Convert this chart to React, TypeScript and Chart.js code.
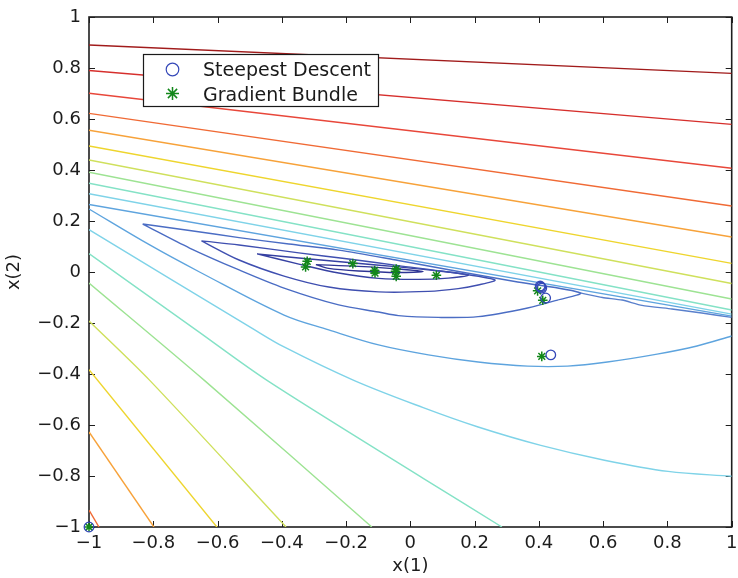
import React, { useEffect, useRef } from "react";
import { Chart, registerables } from "chart.js";

Chart.register(...registerables);

type Pt = [number, number];

// ---------- axis ticks ----------
const tickValues: number[] = [-1, -0.8, -0.6, -0.4, -0.2, 0, 0.2, 0.4, 0.6, 0.8, 1];
const xTitle = "x(1)";
const yTitle = "x(2)";

// ---------- contour lines ----------
// upper family, left edge -> right edge
const c01DarkRed: Pt[] = [[-1, 0.89], [1, 0.779]];
const c02Red: Pt[] = [[-1, 0.79], [1, 0.579]];
const c03Red: Pt[] = [[-1, 0.701], [1, 0.407]];
const c04OrangeRed: Pt[] = [[-1, 0.622], [1, 0.259]];
const c05Orange: Pt[] = [[-1, 0.556], [1, 0.137]];
const c06Yellow: Pt[] = [[-1, 0.494], [1, 0.034]];
const c07Lime: Pt[] = [[-1, 0.439], [1, -0.045]];
const c08LightGreen: Pt[] = [[-1, 0.391], [1, -0.106]];
const c09Aqua: Pt[] = [[-1, 0.348], [1, -0.149]];
const c10Cyan: Pt[] = [[-1, 0.307], [1, -0.165]];
const c11SteelBlue: Pt[] = [[-1, 0.265], [1, -0.173]];

// lower family
const c04bOrangeRed: Pt[] = [[-1, -0.934], [-0.969, -1]];
const c05bOrange: Pt[] = [[-1, -0.627], [-0.798, -1]];
const c06bYellow: Pt[] = [[-1, -0.383], [-0.602, -1]];
const c07bLime: Pt[] = [[-1, -0.192], [-0.811, -0.425], [-0.387, -1]];
const c08bLightGreen: Pt[] = [[-1, -0.043], [-0.641, -0.425], [-0.12, -1]];
const c09bAqua: Pt[] = [[-1, 0.072], [-0.666, -0.228], [-0.446, -0.425], [0.04, -0.809], [0.285, -1]];
const c10bCyan: Pt[] = [
  [-1, 0.166], [-0.492, -0.221], [-0.393, -0.294], [-0.176, -0.425], [0.04, -0.532],
  [0.211, -0.608], [0.406, -0.68], [0.604, -0.738], [0.802, -0.782], [1, -0.801],
];
const c11bSteelBlue: Pt[] = [
  [-1, 0.247], [-0.811, 0.106], [-0.656, 0.0], [-0.393, -0.169], [-0.254, -0.227],
  [-0.099, -0.286], [0.056, -0.325], [0.211, -0.353], [0.365, -0.369], [0.489, -0.369],
  [0.613, -0.353], [0.768, -0.322], [0.892, -0.29], [1, -0.251],
];

// valley loops
const c12Blue: Pt[] = [
  [-0.833, 0.188], [-0.687, 0.163], [-0.533, 0.135], [-0.378, 0.11], [-0.223, 0.086],
  [-0.037, 0.045], [0.158, 0.0], [0.334, -0.039], [0.529, -0.082],
  [0.458, -0.11], [0.365, -0.141], [0.211, -0.175], [0.087, -0.178], [-0.037, -0.171],
  [-0.099, -0.157], [-0.223, -0.129], [-0.393, -0.063], [-0.533, 0.008], [-0.687, 0.094],
  [-0.833, 0.188],
];
const c12BlueTail: Pt[] = [
  [0.529, -0.082], [0.598, -0.1], [0.659, -0.11], [0.721, -0.131], [0.814, -0.145],
  [0.907, -0.161], [1, -0.178],
];
const c13DarkBlue: Pt[] = [
  [-0.65, 0.122], [-0.533, 0.106], [-0.347, 0.075], [-0.192, 0.051], [-0.037, 0.025],
  [0.118, 0.0], [0.263, -0.031], [0.211, -0.051], [0.149, -0.065], [0.056, -0.076],
  [-0.099, -0.078], [-0.254, -0.059], [-0.393, -0.016], [-0.533, 0.047], [-0.65, 0.122],
];
const c14Navy: Pt[] = [
  [-0.477, 0.071], [-0.347, 0.055], [-0.192, 0.037], [-0.037, 0.02], [0.087, 0.004],
  [0.18, -0.012], [0.118, -0.024], [0.025, -0.029], [-0.099, -0.025], [-0.223, -0.004],
  [-0.347, 0.031], [-0.477, 0.071],
];
const c15Indigo: Pt[] = [
  [-0.294, 0.029], [-0.161, 0.022], [-0.037, 0.012], [0.04, 0.002], [-0.037, -0.002],
  [-0.161, 0.004], [-0.254, 0.014], [-0.294, 0.029],
];

// ---------- iterates ----------
const steepestDescent: Pt[] = [
  [-1, -1], [0.437, -0.325], [0.421, -0.102], [0.406, -0.059], [0.404, -0.055], [0.409, -0.063],
];
const gradientBundle: Pt[] = [
  [-1, -1], [-0.321, 0.042], [-0.326, 0.02], [-0.179, 0.033], [-0.111, 0.006], [-0.11, -0.004],
  [-0.044, 0.012], [-0.046, 0.003], [-0.044, -0.017], [0.081, -0.013],
  [0.396, -0.074], [0.412, -0.111], [0.409, -0.331],
];

const seriesNames = ["Steepest Descent", "Gradient Bundle"];

// ---------- styles ----------
const SD_COLOR = "#3548b8";
const GB_COLOR = "#12871a";
const contourTable: { pts: Pt[]; color: string; tension: number }[] = [
  { pts: c01DarkRed, color: "#a11b1b", tension: 0 },
  { pts: c02Red, color: "#d62f2c", tension: 0 },
  { pts: c03Red, color: "#e8473a", tension: 0 },
  { pts: c04OrangeRed, color: "#f06a35", tension: 0 },
  { pts: c05Orange, color: "#f7a23a", tension: 0 },
  { pts: c06Yellow, color: "#eed52d", tension: 0 },
  { pts: c07Lime, color: "#cfe05c", tension: 0 },
  { pts: c08LightGreen, color: "#9de393", tension: 0 },
  { pts: c09Aqua, color: "#84e2c6", tension: 0 },
  { pts: c10Cyan, color: "#7fd3e8", tension: 0 },
  { pts: c11SteelBlue, color: "#5ea4de", tension: 0 },
  { pts: c04bOrangeRed, color: "#f06a35", tension: 0 },
  { pts: c05bOrange, color: "#f7a23a", tension: 0 },
  { pts: c06bYellow, color: "#eed52d", tension: 0 },
  { pts: c07bLime, color: "#cfe05c", tension: 0.3 },
  { pts: c08bLightGreen, color: "#9de393", tension: 0.3 },
  { pts: c09bAqua, color: "#84e2c6", tension: 0.3 },
  { pts: c10bCyan, color: "#7fd3e8", tension: 0.35 },
  { pts: c11bSteelBlue, color: "#5ea4de", tension: 0.35 },
  { pts: c12Blue, color: "#4b6dc4", tension: 0.3 },
  { pts: c12BlueTail, color: "#5a80cc", tension: 0.2 },
  { pts: c13DarkBlue, color: "#3f4fb0", tension: 0.3 },
  { pts: c14Navy, color: "#3641a2", tension: 0.3 },
  { pts: c15Indigo, color: "#2e3494", tension: 0.3 },
];

const FONT = "'DejaVu Sans', 'Liberation Sans', Arial, sans-serif";
const TEXT = "#1c1c1c";

const fmt = (v: number | string) => {
  const n = Math.round(Number(v) * 10) / 10;
  return n < 0 ? "\u2212" + String(Math.abs(n)) : String(n === 0 ? 0 : n);
};

const toXY = (pts: Pt[]) => pts.map(([x, y]) => ({ x, y }));

const framePlugin = {
  id: "matlabFrame",
  beforeDatasetsDraw(chart: any) {
    const { ctx, chartArea, scales } = chart;
    const { left, right, top, bottom } = chartArea;
    ctx.save();
    ctx.strokeStyle = "#1e1e1e";
    ctx.lineWidth = 1;
    ctx.beginPath();
    for (const v of tickValues) {
      const px = Math.round(scales.x.getPixelForValue(v)) + 0.5;
      ctx.moveTo(px, bottom);
      ctx.lineTo(px, bottom - 6);
      ctx.moveTo(px, top);
      ctx.lineTo(px, top + 6);
      const py = Math.round(scales.y.getPixelForValue(v)) + 0.5;
      ctx.moveTo(left, py);
      ctx.lineTo(left + 6, py);
      ctx.moveTo(right, py);
      ctx.lineTo(right - 6, py);
    }
    ctx.stroke();
    ctx.lineWidth = 1.6;
    ctx.strokeRect(left, top, right - left, bottom - top);
    ctx.restore();
  },
  afterDraw(chart: any) {
    const { ctx, chartArea } = chart;
    const bx = chartArea.left + 54;
    const by = chartArea.top + 37;
    const bw = 236;
    const bh = 53;
    ctx.save();
    ctx.fillStyle = "#ffffff";
    ctx.fillRect(bx, by, bw, bh);
    ctx.strokeStyle = "#1a1a1a";
    ctx.lineWidth = 1.2;
    ctx.strokeRect(bx + 0.5, by + 0.5, bw - 1, bh - 1);
    // circle
    const mx = bx + 29.5;
    ctx.strokeStyle = SD_COLOR;
    ctx.lineWidth = 1.2;
    ctx.beginPath();
    ctx.arc(mx, by + 15.5, 6.3, 0, Math.PI * 2);
    ctx.stroke();
    // asterisk
    ctx.strokeStyle = GB_COLOR;
    ctx.lineWidth = 1.5;
    ctx.beginPath();
    const sy = by + 39.5;
    for (let k = 0; k < 4; k++) {
      const a = (k * Math.PI) / 4;
      ctx.moveTo(mx - 6.5 * Math.cos(a), sy - 6.5 * Math.sin(a));
      ctx.lineTo(mx + 6.5 * Math.cos(a), sy + 6.5 * Math.sin(a));
    }
    ctx.stroke();
    ctx.fillStyle = "#1a1a1a";
    ctx.font = "19px " + FONT;
    ctx.textBaseline = "alphabetic";
    ctx.textAlign = "left";
    ctx.fillText(seriesNames[0], bx + 60, by + 22);
    ctx.fillText(seriesNames[1], bx + 60, by + 46.5);
    ctx.restore();
  },
};

export default function App() {
  const ref = useRef<HTMLCanvasElement | null>(null);

  useEffect(() => {
    if (!ref.current) return;
    const datasets: any[] = [
      {
        label: seriesNames[0],
        data: toXY(steepestDescent),
        pointStyle: "circle",
        pointRadius: 4.8,
        pointBorderWidth: 1.3,
        borderColor: SD_COLOR,
        pointBorderColor: SD_COLOR,
        backgroundColor: "rgba(0,0,0,0)",
        pointBackgroundColor: "rgba(0,0,0,0)",
        showLine: false,
        clip: false,
        order: 0,
      },
      {
        label: seriesNames[1],
        data: toXY(gradientBundle),
        pointStyle: "star",
        pointRadius: 4.8,
        pointBorderWidth: 1.5,
        borderColor: GB_COLOR,
        pointBorderColor: GB_COLOR,
        backgroundColor: GB_COLOR,
        showLine: false,
        clip: false,
        order: 0,
      },
      ...contourTable.map((c, i) => ({
        label: "contour" + i,
        data: toXY(c.pts),
        showLine: true,
        borderColor: c.color,
        borderWidth: 1.4,
        pointRadius: 0,
        pointHoverRadius: 0,
        fill: false,
        tension: c.tension,
        order: 1,
      })),
    ];

    const chart = new Chart(ref.current, {
      type: "scatter",
      data: { datasets },
      plugins: [framePlugin],
      options: {
        responsive: false,
        animation: false,
        devicePixelRatio: 1,
        events: [],
        layout: { padding: { top: 17, right: 3, left: 0, bottom: 0 } },
        plugins: { legend: { display: false }, tooltip: { enabled: false } },
        scales: {
          x: {
            type: "linear",
            min: -1,
            max: 1,
            afterBuildTicks: (s: any) => {
              s.ticks = tickValues.map((v) => ({ value: v }));
            },
            afterFit: (s: any) => {
              s.height = 51;
              s.paddingLeft = 0;
              s.paddingRight = 0;
            },
            grid: { display: false, drawTicks: false },
            border: { display: false },
            ticks: {
              autoSkip: false,
              maxRotation: 0,
              padding: 6,
              color: TEXT,
              font: { family: FONT, size: 18 },
              callback: (v: any) => fmt(v),
            },
            title: {
              display: true,
              text: xTitle,
              color: TEXT,
              font: { family: FONT, size: 18 },
              padding: { top: 0, bottom: 1 },
            },
          },
          y: {
            type: "linear",
            min: -1,
            max: 1,
            afterBuildTicks: (s: any) => {
              s.ticks = tickValues.map((v) => ({ value: v }));
            },
            afterFit: (s: any) => {
              s.width = 89;
              s.paddingTop = 0;
              s.paddingBottom = 0;
            },
            grid: { display: false, drawTicks: false },
            border: { display: false },
            ticks: {
              autoSkip: false,
              padding: 8,
              color: TEXT,
              font: { family: FONT, size: 18 },
              callback: (v: any) => fmt(v),
            },
            title: {
              display: true,
              text: yTitle,
              color: TEXT,
              font: { family: FONT, size: 18 },
              padding: { top: 4, bottom: 0 },
            },
          },
        },
      } as any,
    });
    return () => chart.destroy();
  }, []);

  return (
    <div style={{ position: "fixed", left: 0, top: 0, width: 738, height: 578, background: "#ffffff" }}>
      <canvas ref={ref} width={738} height={578} style={{ display: "block", width: 738, height: 578 }} />
    </div>
  );
}
